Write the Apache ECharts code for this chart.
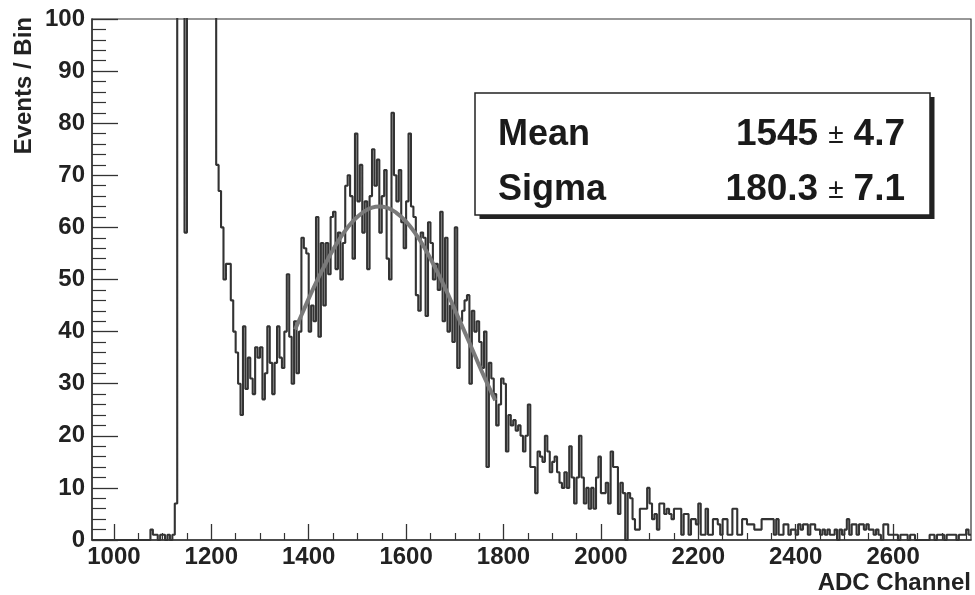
<!DOCTYPE html>
<html><head><meta charset="utf-8">
<script src="https://cdn.jsdelivr.net/npm/echarts@6/dist/echarts.min.js"></script>
<style>html,body{margin:0;padding:0;background:#fff}#c{width:975px;height:595px}</style>
</head><body><div id="c"></div>
<script>
// Histogram binning (ADC channels)
const binStart = 955;
const binWidth = 5;
// Events per bin, 955–1245
const countsA = [0,0,0,0,0,0,0,0,0,0,0,0,0,0,0,0,0,0,0,0,0,0,0,
  0,2,1,1,0,1,1,0,1,0,1,
  7,
  180,210,190,
  59,
  230,260,250,240,220,205,190,175,160,145,130,115,
  72,67,60,50,53,53,46,40];
// 1250–1745
const countsB = [36,30,24,41,29,35,31,28,37,35,
  37,27,32,41,34,28,34,41,35,33,
  40,51,39,30,42,32,40,58,56,55,
  40,45,42,62,39,57,45,57,51,62,
  63,52,59,50,57,68,70,66,54,78,
  65,72,59,65,52,66,75,68,73,59,
  66,71,54,50,82,70,65,71,61,56,
  65,78,64,62,47,44,59,58,43,61,
  57,50,53,48,63,42,58,40,45,38,
  60,33,42,44,46,47,30,44,40,42];
// 1750–2245
const countsC = [38,33,40,14,34,31,28,22,26,31,
  30,17,24,22,23,21,22,20,17,20,
  26,14,14,9,17,16,15,20,17,13,
  15,16,13,11,10,13,10,18,12,7,
  12,20,12,7,10,6,10,6,12,16,
  9,9,11,7,17,14,14,5,11,9,
  0,9,8,4,2,2,6,6,6,10,
  7,4,5,2,7,7,5,6,5,4,
  6,6,6,1,5,5,1,4,4,3,
  7,1,1,6,1,1,4,4,3,1];
// 2250–2755
const countsD = [4,4,1,1,6,6,1,1,4,4,
  3,3,3,2,2,2,4,4,4,4,
  4,1,4,1,1,3,3,1,2,2,
  1,3,2,3,3,1,3,3,2,2,
  1,2,1,2,1,1,2,0,2,1,
  2,4,1,3,3,1,3,3,2,3,
  2,2,1,2,1,0,3,3,1,1,
  1,1,0,1,1,1,0,1,1,0,
  0,0,0,0,0,1,1,0,1,1,
  1,0,1,1,1,1,0,1,1,1,
  2,1];
// Gaussian fit curve
const fitX = [1372,1390,1410,1430,1450,1470,1490,1510,1530,1545,1560,1580,1600,1620,1640,1660,1680,1700,1720,1740,1760,1783];
const fitY = [40.4,44.2,48.4,52.2,55.7,58.7,61.1,62.8,63.8,64.0,63.8,62.8,61.1,58.7,55.7,52.2,48.4,44.2,40.0,35.7,31.4,26.8];
// Axis ticks
const xMajorTicks = [1000,1200,1400,1600,1800,2000,2200,2400,2600];
const xMinorTicks = [1050,1100,1150,1250,1300,1350,1450,1500,1550,1650,1700,1750,1850,1900,1950,2050,2100,2150,2250,2300,2350,2450,2500,2550,2650,2700,2750];
const statNames = ['Mean','Sigma'];
const statValues = ['1545','180.3'];
const statErrors = ['4.7','7.1'];

const counts = countsA.concat(countsB, countsC, countsD);
const histData = counts.map((v, i) => [binStart + i * binWidth, v]);
histData.push([binStart + counts.length * binWidth, counts[counts.length - 1]]);
const fitData = fitX.map((x, i) => [x, fitY[i]]);

const FONT = '"Liberation Sans", Arial, Helvetica, sans-serif';
const chart = echarts.init(document.getElementById('c'), null, {renderer: 'canvas'});

const statGraphics = [];
statNames.forEach((n, i) => {
  const y = 135 + i * 55;
  statGraphics.push({type: 'text', x: 498, y: y, z: 102,
    style: {text: n, font: 'bold 36px ' + FONT, fill: '#1a1a1a', align: 'left', verticalAlign: 'middle', textAlign: 'left', textVerticalAlign: 'middle'}});
  statGraphics.push({type: 'text', x: 905, y: y, z: 102,
    style: {text: '{b|' + statValues[i] + '}{p|±}{b|' + statErrors[i] + '}',
      align: 'right', verticalAlign: 'middle', textAlign: 'right', textVerticalAlign: 'middle',
      rich: {
        b: {fontFamily: FONT, fontWeight: 'bold', fontSize: 37, fill: '#1a1a1a', color: '#1a1a1a'},
        p: {fontFamily: FONT, fontWeight: 'normal', fontSize: 28, fill: '#1a1a1a', color: '#1a1a1a', padding: [0, 10, 0, 10]}
      }}});
});

chart.setOption({
  animation: false,
  backgroundColor: '#fff',
  grid: {left: 92, right: 4, top: 19, bottom: 55, show: true, borderColor: '#333', borderWidth: 1.2, backgroundColor: '#fff'},
  xAxis: [{
    type: 'value', min: 955, max: 2760, position: 'bottom',
    axisLine: {show: true, lineStyle: {color: '#333', width: 1.5}},
    axisTick: {show: true, inside: true, length: 16, customValues: xMajorTicks, lineStyle: {color: '#333', width: 1.3}},
    axisLabel: {show: true, customValues: xMajorTicks, formatter: v => String(v), margin: 5, color: '#222', fontFamily: FONT, fontWeight: 'bold', fontSize: 24},
    splitLine: {show: false}
  }, {
    type: 'value', min: 955, max: 2760, position: 'bottom', offset: 0,
    axisLine: {show: false},
    axisTick: {show: true, inside: true, length: 7, customValues: xMinorTicks, lineStyle: {color: '#333', width: 1.2}},
    axisLabel: {show: false},
    splitLine: {show: false}
  }],
  yAxis: {
    type: 'value', min: 0, max: 100, interval: 10,
    axisLine: {show: true, lineStyle: {color: '#333', width: 1.5}},
    axisTick: {show: true, inside: true, length: 26, lineStyle: {color: '#333', width: 1.3}},
    minorTick: {show: true, splitNumber: 5, length: 14, lineStyle: {color: '#333', width: 1.2}},
    axisLabel: {margin: 7, formatter: v => String(v), color: '#222', fontFamily: FONT, fontWeight: 'bold', fontSize: 24},
    splitLine: {show: false}, minorSplitLine: {show: false}
  },
  series: [{
    type: 'line', xAxisIndex: 0, data: histData, step: 'end', showSymbol: false, symbol: 'none',
    clip: true, lineStyle: {color: '#333', width: 2.1}, z: 2
  }, {
    type: 'line', xAxisIndex: 0, data: fitData, smooth: true, showSymbol: false, symbol: 'none',
    clip: true, lineStyle: {color: '#7a7a7a', width: 4}, z: 3
  }],
  graphic: [
    {type: 'text', x: 24, y: 17, rotation: Math.PI / 2, z: 100,
      style: {text: 'Events / Bin', font: 'bold 24px ' + FONT, fill: '#222', align: 'right', verticalAlign: 'middle', textAlign: 'right', textVerticalAlign: 'middle'}},
    {type: 'text', x: 971, y: 583, z: 100,
      style: {text: 'ADC Channel', font: 'bold 24px ' + FONT, fill: '#222', align: 'right', verticalAlign: 'middle', textAlign: 'right', textVerticalAlign: 'middle'}},
    {type: 'rect', z: 100, shape: {x: 479.5, y: 97, width: 455, height: 122}, style: {fill: '#222'}},
    {type: 'rect', z: 101, shape: {x: 475, y: 93, width: 455, height: 122}, style: {fill: '#fff', stroke: '#222', lineWidth: 1.5}}
  ].concat(statGraphics)
});
</script>
</body></html>
